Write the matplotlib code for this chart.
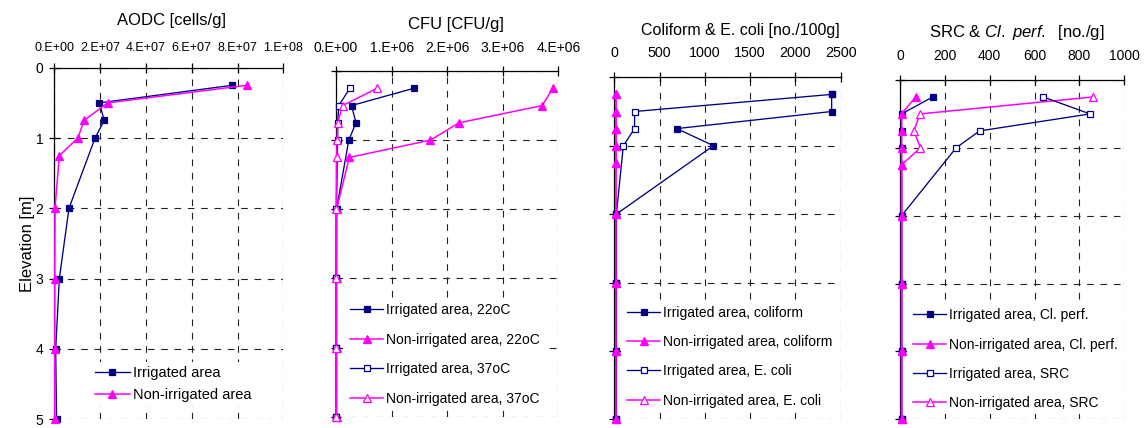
import matplotlib
matplotlib.use("Agg")
import matplotlib.pyplot as plt
from matplotlib.ticker import FuncFormatter

plt.rcParams["font.family"] = ["Liberation Sans", "DejaVu Sans"]
plt.rcParams["mathtext.fontset"] = "custom"
plt.rcParams["mathtext.rm"] = "Liberation Sans"
plt.rcParams["mathtext.it"] = "Liberation Sans:italic"

NAVY = "#000080"
MAGENTA = "#FF00FF"

# Sampling depths [m]
depth_irr = [0.25, 0.5, 0.75, 1.0, 2, 3, 4, 5]
depth_non = [0.25, 0.5, 0.75, 1.0, 1.25, 2, 3, 4, 5]

# AODC [cells/g]
aodc_irr = [7.77e7, 1.97e7, 2.18e7, 1.78e7, 6.4e6, 2.2e6, 0.6e6, 1.0e6]
aodc_non = [8.41e7, 2.33e7, 1.30e7, 1.03e7, 2.2e6, 0.3e6, 0.2e6, 0.2e6, 0.2e6]

# CFU [CFU/g]
cfu22_irr = [1.40e6, 0.28e6, 0.36e6, 0.23e6, 0.01e6, 0.005e6, 0.005e6, 0.005e6]
cfu22_non = [3.90e6, 3.71e6, 2.21e6, 1.70e6, 0.24e6, 0.01e6, 0.01e6, 0.01e6, 0.01e6]
cfu37_irr = [0.25e6, 0.05e6, 0.03e6, 0.03e6, 0.005e6, 0.005e6, 0.005e6, 0.005e6]
cfu37_non = [0.74e6, 0.12e6, 0.03e6, 0.02e6, 0.01e6, 0.005e6, 0.005e6, 0.005e6, 0.005e6]

# Coliform & E. coli [no./100g]
coli_irr = [2400, 2400, 690, 1095, 23, 23, 23, 23]
coli_non = [23, 23, 23, 23, 23, 23, 23, 23, 23]
ecoli_irr = [2400, 224, 224, 100, 23, 23, 23, 23]
ecoli_non = [20, 20, 20, 20, 20, 20, 20, 20, 20]

# SRC & Cl. perf. [no./g]
clp_irr = [146, 7, 7, 7, 7, 7, 7, 7]
clp_non = [70, 7, 7, 7, 7, 7, 7, 7, 7]
src_irr = [639, 847, 355, 250, 7, 7, 7, 7]
src_non = [859, 89, 62, 91, 7, 7, 7, 7, 7]

W, H = 1147, 428
fig = plt.figure(figsize=(W / 100, H / 100), dpi=100)


def px_axes(left, right, top, bottom):
    return fig.add_axes([left / W, 1 - bottom / H, (right - left) / W, (bottom - top) / H])


def sci_fmt(v, _pos):
    s = "{:.0e}".format(v)
    m, e = s.split("e")
    return "{}.E{}".format(m, e)


def style_axes(ax, xmax, xticks, tick_size, label_y, pad_x, fmt=None):
    ax.set_xlim(0, xmax)
    ax.set_ylim(5, 0)
    ax.set_xticks(xticks)
    ax.set_yticks([0, 1, 2, 3, 4, 5])
    ax.xaxis.tick_top()
    for side in ("right", "bottom"):
        ax.spines[side].set_visible(False)
    for side in ("top", "left"):
        ax.spines[side].set_linewidth(0.9)
        ax.spines[side].set_color("black")
    ax.tick_params(axis="x", direction="inout", length=7, width=0.9,
                   labelsize=tick_size, pad=pad_x, top=True, bottom=False)
    ax.tick_params(axis="y", direction="inout", length=7, width=0.9,
                   labelsize=10, pad=4.5, labelleft=label_y)
    if fmt is not None:
        ax.xaxis.set_major_formatter(FuncFormatter(fmt))
    ax.grid(True, color="#222222", linestyle=(0, (6, 6)), linewidth=0.8)
    ax.set_axisbelow(True)


def series(ax, x, y, color, marker, filled, label, ms, z):
    ax.plot(x, y, color=color, lw=1.1 if color == MAGENTA else 0.95,
            marker=marker, ms=ms,
            markerfacecolor=color if filled else "white",
            markeredgecolor=color, markeredgewidth=0.9,
            label=label, clip_on=False, zorder=z)


def legend(ax, x, y, size, spacing):
    leg = ax.legend(loc="center left", bbox_to_anchor=(x, y), borderaxespad=0,
                    fontsize=size, labelspacing=spacing, handlelength=2.4,
                    handletextpad=0.2, borderpad=0.3, frameon=True,
                    fancybox=False, framealpha=1)
    leg.get_frame().set_facecolor("white")
    leg.get_frame().set_edgecolor("none")
    leg.set_zorder(6)


# Panel 1: AODC
ax1 = px_axes(54.3, 283.3, 67.7, 419.3)
style_axes(ax1, 1e8, [0, 2e7, 4e7, 6e7, 8e7, 1e8], 9, True, 6.5, sci_fmt)
series(ax1, aodc_irr, depth_irr, NAVY, "s", True, "Irrigated area", 5, 3)
series(ax1, aodc_non, depth_non, MAGENTA, "^", True, "Non-irrigated area", 6, 4)
legend(ax1, 0.158, 0.100, 10.5, 0.5)
ax1.set_ylabel("Elevation [m]", fontsize=12, labelpad=0)
fig.text(172 / W, 1 - 20 / H, "AODC [cells/g]", ha="center", va="center", fontsize=12)

# Panel 2: CFU
ax2 = px_axes(336, 558.3, 71, 416.7)
style_axes(ax2, 4e6, [0, 1e6, 2e6, 3e6, 4e6], 10, False, 8, sci_fmt)
series(ax2, cfu22_irr, depth_irr, NAVY, "s", True, "Irrigated area, 22oC", 5, 3)
series(ax2, cfu22_non, depth_non, MAGENTA, "^", True, "Non-irrigated area, 22oC", 6, 3.2)
series(ax2, cfu37_irr, depth_irr, NAVY, "s", False, "Irrigated area, 37oC", 5, 3.4)
series(ax2, cfu37_non, depth_non, MAGENTA, "^", False, "Non-irrigated area, 37oC", 6, 3.6)
legend(ax2, 0.044, 0.180, 10, 1.13)
fig.text(456 / W, 1 - 25 / H, "CFU [CFU/g]", ha="center", va="center", fontsize=12)

# Panel 3: Coliform & E. coli
ax3 = px_axes(614.3, 840.7, 77.3, 419.3)
style_axes(ax3, 2500, [0, 500, 1000, 1500, 2000, 2500], 10.3, False, 9)
series(ax3, coli_irr, depth_irr, NAVY, "s", True, "Irrigated area, coliform", 5, 3.4)
series(ax3, coli_non, depth_non, MAGENTA, "^", True, "Non-irrigated area, coliform", 6, 3.6)
series(ax3, ecoli_irr, depth_irr, NAVY, "s", False, "Irrigated area, E. coli", 5, 3.2)
series(ax3, ecoli_non, depth_non, MAGENTA, "^", False, "Non-irrigated area, E. coli", 6, 3)
legend(ax3, 0.038, 0.183, 10, 1.1)
fig.text(740 / W, 1 - 31 / H, "Coliform & E. coli [no./100g]", ha="center", va="center",
         fontsize=11.5)

# Panel 4: SRC & Cl. perf.
ax4 = px_axes(900, 1124.3, 80, 419.3)
style_axes(ax4, 1000, [0, 200, 400, 600, 800, 1000], 10, False, 8.7)
series(ax4, clp_irr, depth_irr, NAVY, "s", True, "Irrigated area, Cl. perf.", 5, 3.4)
series(ax4, clp_non, depth_non, MAGENTA, "^", True, "Non-irrigated area, Cl. perf.", 6, 3.6)
series(ax4, src_irr, depth_irr, NAVY, "s", False, "Irrigated area, SRC", 5, 3.2)
series(ax4, src_non, depth_non, MAGENTA, "^", False, "Non-irrigated area, SRC", 6, 3)
legend(ax4, 0.039, 0.177, 10, 1.1)
fig.text(1017 / W, 1 - 33 / H, r"SRC & $\mathit{Cl.\ perf.}$  [no./g]", ha="center",
         va="center", fontsize=12)

fig.savefig("out.png", dpi=100)
